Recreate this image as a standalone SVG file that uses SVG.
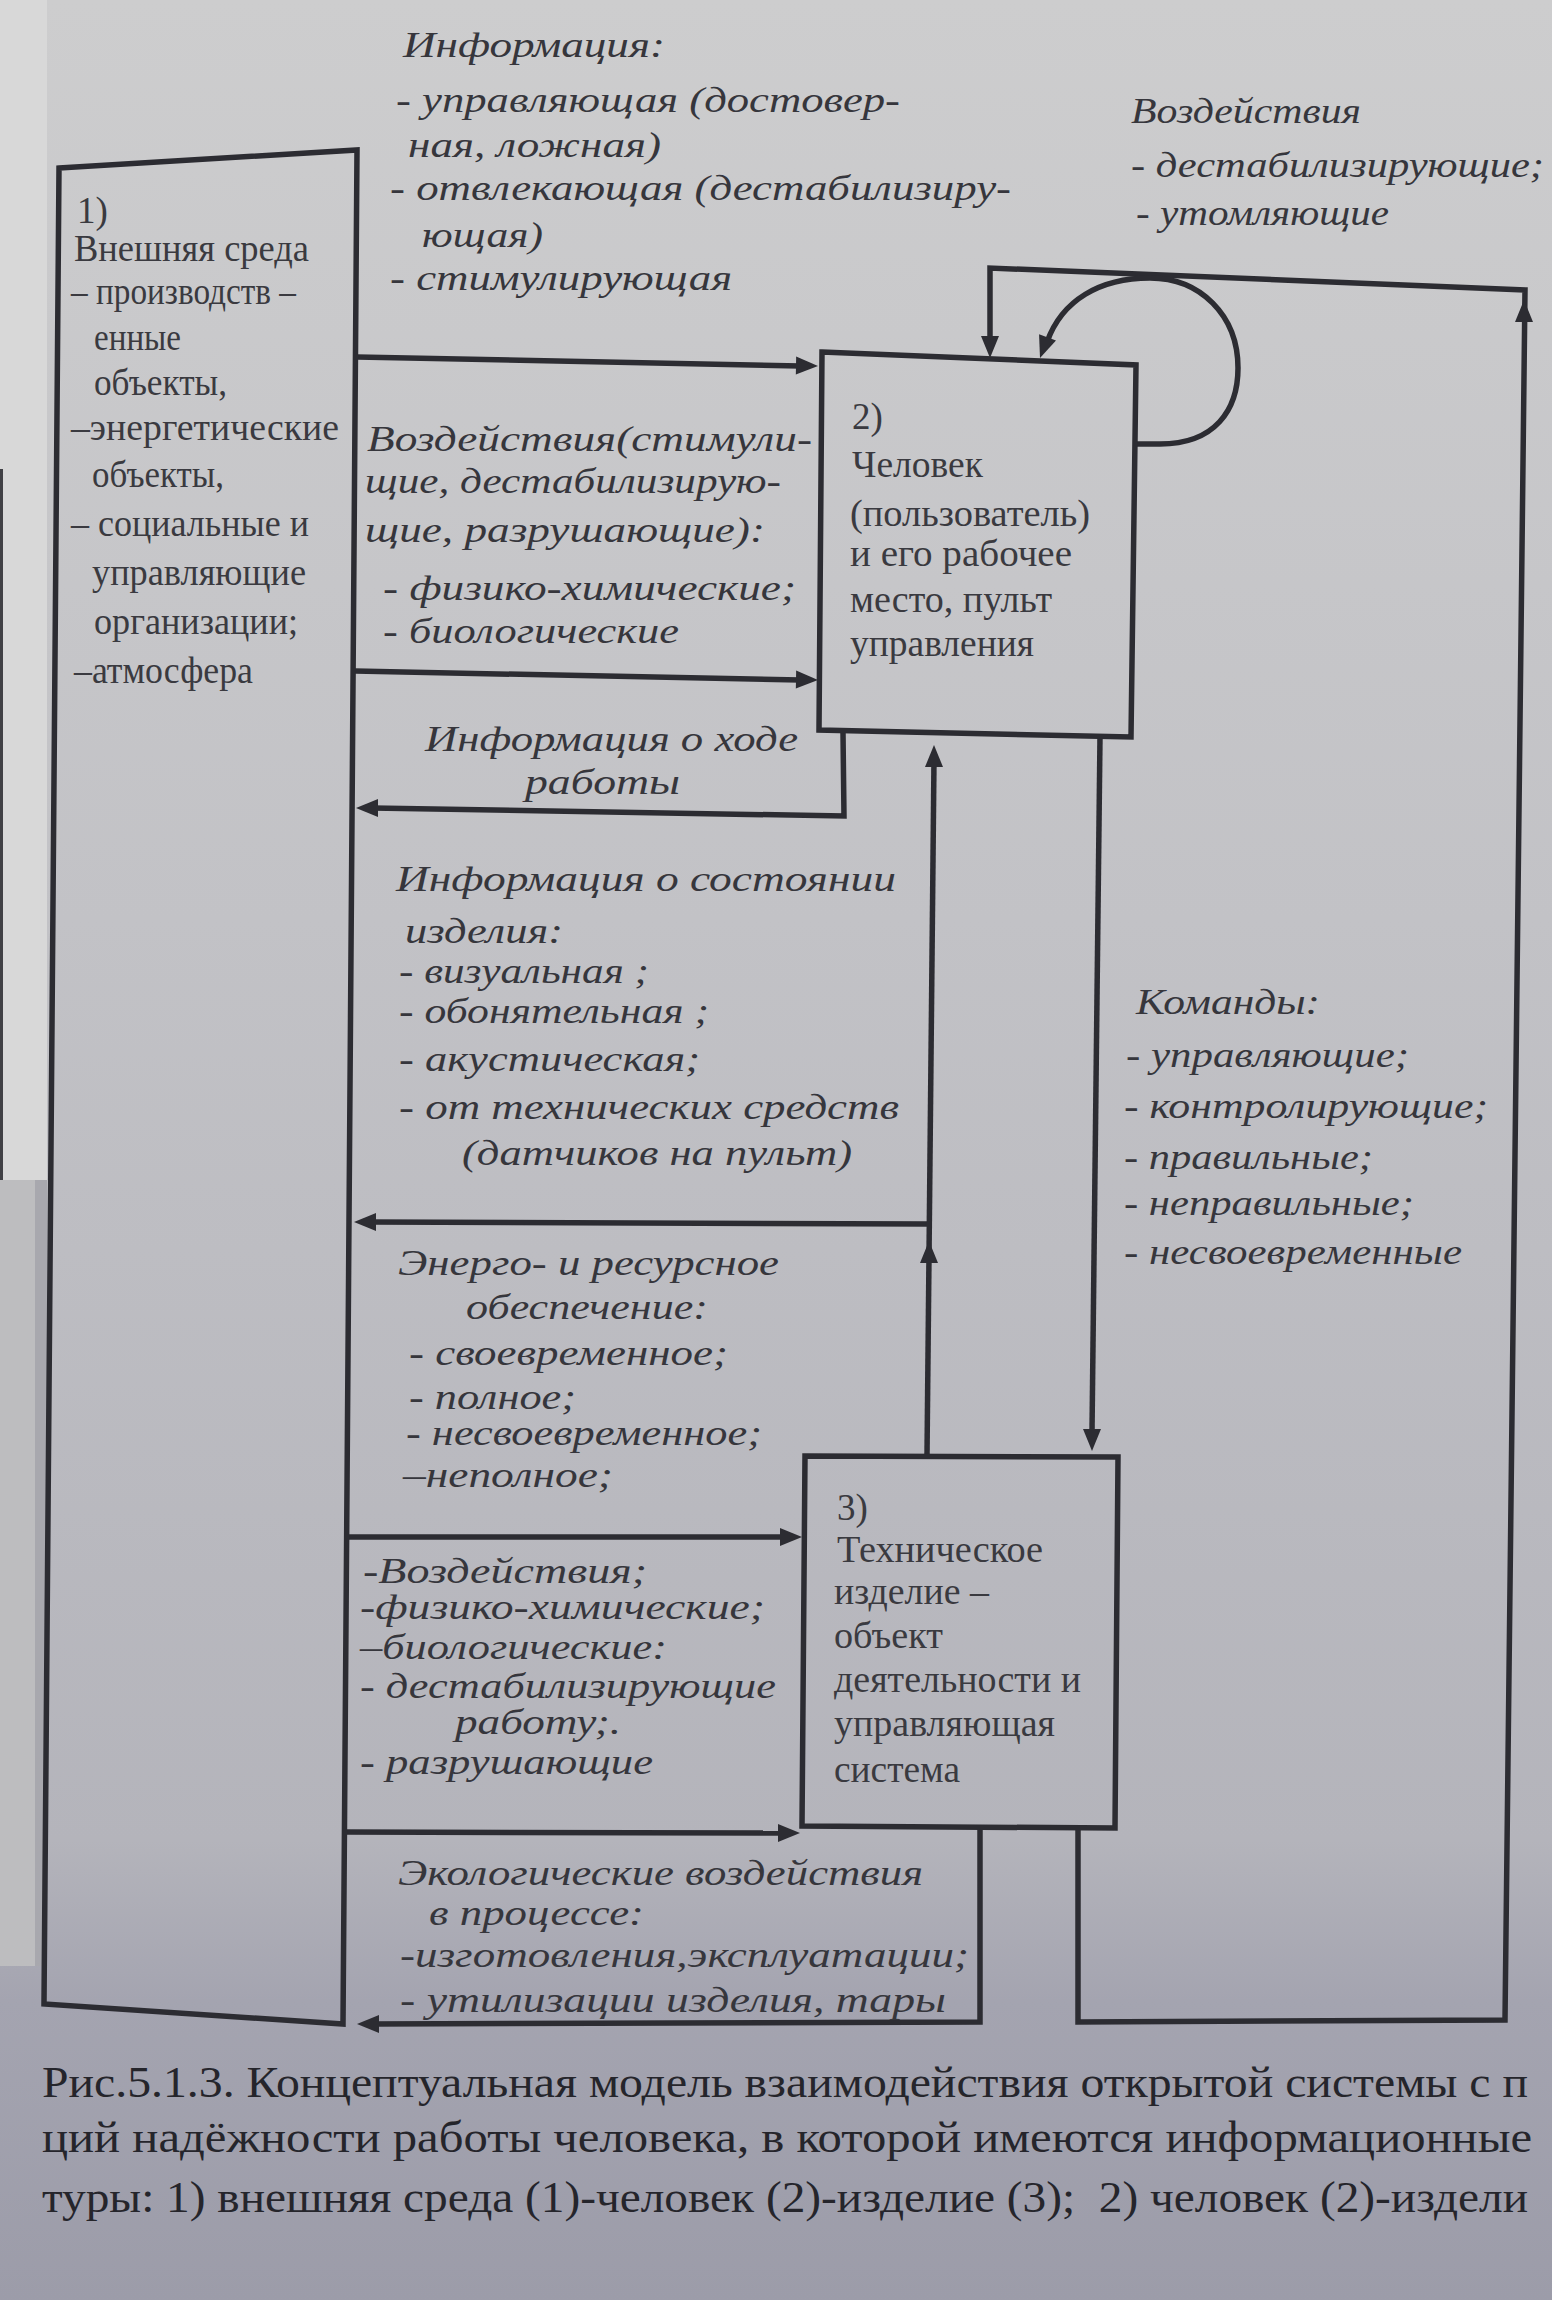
<svg xmlns="http://www.w3.org/2000/svg" width="1552" height="2300" viewBox="0 0 1552 2300">
<defs>
<linearGradient id="bg" x1="0" y1="0" x2="0" y2="1">
<stop offset="0" stop-color="#cdcdce"/>
<stop offset="0.4" stop-color="#c2c2c6"/>
<stop offset="0.8" stop-color="#b4b4bb"/>
<stop offset="0.87" stop-color="#a4a4b0"/>
<stop offset="1" stop-color="#9c9ca9"/>
</linearGradient>
<path id="ah" d="M0,0 L-22,-9 L-22,9 Z"/>
<style>
.ln{fill:none;stroke:#2c2c32;stroke-width:5.5;stroke-linejoin:miter}
.box{fill:none;stroke:#2c2c32;stroke-width:5.5;stroke-linejoin:miter}
.ahd{fill:#2c2c32}
.lab{font-family:"Liberation Serif","DejaVu Serif",serif;font-style:italic;font-size:36px;fill:#36363c}
.bt{font-family:"Liberation Serif","DejaVu Serif",serif;font-size:37px;fill:#3a3a40}
.cap{font-family:"Liberation Serif","DejaVu Serif",serif;font-size:45px;fill:#25252b;white-space:pre}
</style>
</defs>

<rect x="0" y="0" width="1552" height="2300" fill="url(#bg)"/>
<rect x="0" y="0" width="47" height="1180" fill="#d8d8d8"/>
<rect x="0" y="469" width="3" height="711" fill="#404045"/>
<rect x="0" y="1180" width="35" height="786" fill="#bdbdbf"/>
<rect x="35" y="1180" width="12" height="786" fill="#a8a8ae"/>

<g id="connectors">
<path class="ln" d="M357,357 L800,366"/>
<path class="ln" d="M355,671 L800,680"/>
<path class="ln" d="M843,733 L844,816 L372,808"/>
<path class="ln" d="M927,1455 L934,760"/>
<path class="ln" d="M929,1224 L370,1222"/>
<path class="ln" d="M1100,737 L1092,1432"/>
<path class="ln" d="M349,1537 L784,1537"/>
<path class="ln" d="M343,1832 L782,1833"/>
<path class="ln" d="M980,1827 L980,2022 L372,2024"/>
<path class="ln" d="M1078,1828 L1078,2022 L1505,2020 L1525,290 L990,268 L990,340"/>
<path class="ln" d="M1136,444 L1160,444 C1215,444 1238,410 1238,368 C1238,315 1200,278 1150,278 C1100,278 1062,300 1047,342"/>
<use href="#ah" class="ahd" transform="translate(818,366) rotate(1)"/>
<use href="#ah" class="ahd" transform="translate(818,680) rotate(1)"/>
<use href="#ah" class="ahd" transform="translate(356,808) rotate(180)"/>
<use href="#ah" class="ahd" transform="translate(934,745) rotate(-90)"/>
<use href="#ah" class="ahd" transform="translate(929,1241) rotate(-90)"/>
<use href="#ah" class="ahd" transform="translate(354,1222) rotate(180)"/>
<use href="#ah" class="ahd" transform="translate(1092,1451) rotate(90)"/>
<use href="#ah" class="ahd" transform="translate(802,1537) rotate(0)"/>
<use href="#ah" class="ahd" transform="translate(800,1833) rotate(0)"/>
<use href="#ah" class="ahd" transform="translate(357,2024) rotate(180)"/>
<use href="#ah" class="ahd" transform="translate(1524,300) rotate(-90)"/>
<use href="#ah" class="ahd" transform="translate(990,358) rotate(90)"/>
<use href="#ah" class="ahd" transform="translate(1040,358) rotate(110)"/>
</g>

<g id="node1">
<path class="box" d="M59,168 L357,150 L343,2024 L44,2004 Z"/>
<text class="bt" x="77" y="223">1)</text>
<text class="bt" x="74" y="261" textLength="235" lengthAdjust="spacingAndGlyphs">Внешняя среда</text>
<text class="bt" x="71" y="304" textLength="225" lengthAdjust="spacingAndGlyphs">– производств –</text>
<text class="bt" x="94" y="350" textLength="87" lengthAdjust="spacingAndGlyphs">енные</text>
<text class="bt" x="94" y="395" textLength="133" lengthAdjust="spacingAndGlyphs">объекты,</text>
<text class="bt" x="71" y="440" textLength="268" lengthAdjust="spacingAndGlyphs">–энергетические</text>
<text class="bt" x="92" y="487" textLength="132" lengthAdjust="spacingAndGlyphs">объекты,</text>
<text class="bt" x="71" y="536" textLength="238" lengthAdjust="spacingAndGlyphs">– социальные  и</text>
<text class="bt" x="92" y="585" textLength="214" lengthAdjust="spacingAndGlyphs">управляющие</text>
<text class="bt" x="94" y="634" textLength="204" lengthAdjust="spacingAndGlyphs">организации;</text>
<text class="bt" x="74" y="683" textLength="179" lengthAdjust="spacingAndGlyphs">–атмосфера</text>
</g>

<g id="node2">
<path class="box" d="M822,352 L1136,365 L1131,737 L819,730 Z"/>
<text class="bt" x="852" y="429">2)</text>
<text class="bt" x="852" y="477" textLength="131" lengthAdjust="spacingAndGlyphs">Человек</text>
<text class="bt" x="850" y="526" textLength="240" lengthAdjust="spacingAndGlyphs">(пользователь)</text>
<text class="bt" x="850" y="566" textLength="222" lengthAdjust="spacingAndGlyphs">и его рабочее</text>
<text class="bt" x="850" y="612" textLength="202" lengthAdjust="spacingAndGlyphs">место, пульт</text>
<text class="bt" x="850" y="656" textLength="184" lengthAdjust="spacingAndGlyphs">управления</text>
</g>

<g id="node3">
<path class="box" d="M805,1456 L1118,1457 L1115,1828 L802,1826 Z"/>
<text class="bt" x="837" y="1520">3)</text>
<text class="bt" x="837" y="1562" textLength="206" lengthAdjust="spacingAndGlyphs">Техническое</text>
<text class="bt" x="834" y="1604" textLength="155" lengthAdjust="spacingAndGlyphs">изделие –</text>
<text class="bt" x="834" y="1648" textLength="109" lengthAdjust="spacingAndGlyphs">объект</text>
<text class="bt" x="834" y="1692" textLength="247" lengthAdjust="spacingAndGlyphs">деятельности и</text>
<text class="bt" x="834" y="1736" textLength="221" lengthAdjust="spacingAndGlyphs">управляющая</text>
<text class="bt" x="834" y="1782" textLength="126" lengthAdjust="spacingAndGlyphs">система</text>
</g>

<g id="labels">
<text class="lab" x="403" y="57" textLength="262" lengthAdjust="spacingAndGlyphs">Информация:</text>
<text class="lab" x="396" y="112" textLength="504" lengthAdjust="spacingAndGlyphs">- управляющая (достовер-</text>
<text class="lab" x="408" y="157" textLength="253" lengthAdjust="spacingAndGlyphs">ная, ложная)</text>
<text class="lab" x="390" y="200" textLength="621" lengthAdjust="spacingAndGlyphs">- отвлекающая (дестабилизиру-</text>
<text class="lab" x="422" y="247" textLength="121" lengthAdjust="spacingAndGlyphs">ющая)</text>
<text class="lab" x="390" y="290" textLength="342" lengthAdjust="spacingAndGlyphs">- стимулирующая</text>

<text class="lab" x="1131" y="123" textLength="230" lengthAdjust="spacingAndGlyphs">Воздействия</text>
<text class="lab" x="1131" y="177" textLength="413" lengthAdjust="spacingAndGlyphs">- дестабилизирующие;</text>
<text class="lab" x="1136" y="225" textLength="253" lengthAdjust="spacingAndGlyphs">- утомляющие</text>

<text class="lab" x="367" y="451" textLength="445" lengthAdjust="spacingAndGlyphs">Воздействия(стимули-</text>
<text class="lab" x="365" y="493" textLength="416" lengthAdjust="spacingAndGlyphs">щие, дестабилизирую-</text>
<text class="lab" x="365" y="542" textLength="400" lengthAdjust="spacingAndGlyphs">щие, разрушающие):</text>
<text class="lab" x="383" y="600" textLength="413" lengthAdjust="spacingAndGlyphs">- физико-химические;</text>
<text class="lab" x="383" y="643" textLength="296" lengthAdjust="spacingAndGlyphs">- биологические</text>

<text class="lab" x="425" y="751" textLength="373" lengthAdjust="spacingAndGlyphs">Информация о ходе</text>
<text class="lab" x="525" y="794" textLength="155" lengthAdjust="spacingAndGlyphs">работы</text>

<text class="lab" x="396" y="891" textLength="500" lengthAdjust="spacingAndGlyphs">Информация о состоянии</text>
<text class="lab" x="405" y="943" textLength="158" lengthAdjust="spacingAndGlyphs">изделия:</text>
<text class="lab" x="399" y="983" textLength="250" lengthAdjust="spacingAndGlyphs">- визуальная ;</text>
<text class="lab" x="399" y="1023" textLength="310" lengthAdjust="spacingAndGlyphs">- обонятельная ;</text>
<text class="lab" x="399" y="1071" textLength="301" lengthAdjust="spacingAndGlyphs">- акустическая;</text>
<text class="lab" x="399" y="1119" textLength="500" lengthAdjust="spacingAndGlyphs">- от технических средств</text>
<text class="lab" x="462" y="1165" textLength="390" lengthAdjust="spacingAndGlyphs">(датчиков на пульт)</text>

<text class="lab" x="1136" y="1014" textLength="184" lengthAdjust="spacingAndGlyphs">Команды:</text>
<text class="lab" x="1126" y="1067" textLength="283" lengthAdjust="spacingAndGlyphs">- управляющие;</text>
<text class="lab" x="1124" y="1118" textLength="364" lengthAdjust="spacingAndGlyphs">- контролирующие;</text>
<text class="lab" x="1124" y="1169" textLength="249" lengthAdjust="spacingAndGlyphs">- правильные;</text>
<text class="lab" x="1124" y="1215" textLength="290" lengthAdjust="spacingAndGlyphs">- неправильные;</text>
<text class="lab" x="1124" y="1264" textLength="338" lengthAdjust="spacingAndGlyphs">- несвоевременные</text>

<text class="lab" x="398" y="1275" textLength="381" lengthAdjust="spacingAndGlyphs">Энерго- и ресурсное</text>
<text class="lab" x="466" y="1319" textLength="242" lengthAdjust="spacingAndGlyphs">обеспечение:</text>
<text class="lab" x="409" y="1365" textLength="319" lengthAdjust="spacingAndGlyphs">- своевременное;</text>
<text class="lab" x="409" y="1409" textLength="167" lengthAdjust="spacingAndGlyphs">- полное;</text>
<text class="lab" x="406" y="1445" textLength="356" lengthAdjust="spacingAndGlyphs">- несвоевременное;</text>
<text class="lab" x="403" y="1487" textLength="210" lengthAdjust="spacingAndGlyphs">–неполное;</text>

<text class="lab" x="363" y="1583" textLength="284" lengthAdjust="spacingAndGlyphs">-Воздействия;</text>
<text class="lab" x="360" y="1619" textLength="405" lengthAdjust="spacingAndGlyphs">-физико-химические;</text>
<text class="lab" x="360" y="1659" textLength="307" lengthAdjust="spacingAndGlyphs">–биологические:</text>
<text class="lab" x="360" y="1698" textLength="416" lengthAdjust="spacingAndGlyphs">- дестабилизирующие</text>
<text class="lab" x="455" y="1734" textLength="166" lengthAdjust="spacingAndGlyphs">работу;.</text>
<text class="lab" x="360" y="1774" textLength="293" lengthAdjust="spacingAndGlyphs">- разрушающие</text>

<text class="lab" x="398" y="1885" textLength="525" lengthAdjust="spacingAndGlyphs">Экологические воздействия</text>
<text class="lab" x="429" y="1925" textLength="215" lengthAdjust="spacingAndGlyphs">в процессе:</text>
<text class="lab" x="400" y="1967" textLength="569" lengthAdjust="spacingAndGlyphs">-изготовления,эксплуатации;</text>
<text class="lab" x="400" y="2012" textLength="546" lengthAdjust="spacingAndGlyphs">- утилизации изделия, тары</text>
</g>

<g id="caption">
<text class="cap" x="42" y="2097" textLength="1486" lengthAdjust="spacingAndGlyphs">Рис.5.1.3. Концептуальная модель взаимодействия открытой системы с п</text>
<text class="cap" x="42" y="2152" textLength="1490" lengthAdjust="spacingAndGlyphs">ций надёжности работы человека, в которой имеются информационные</text>
<text class="cap" x="42" y="2212" textLength="1486" lengthAdjust="spacingAndGlyphs">туры: 1) внешняя среда (1)-человек (2)-изделие (3);  2) человек (2)-издели</text>
</g>
</svg>
